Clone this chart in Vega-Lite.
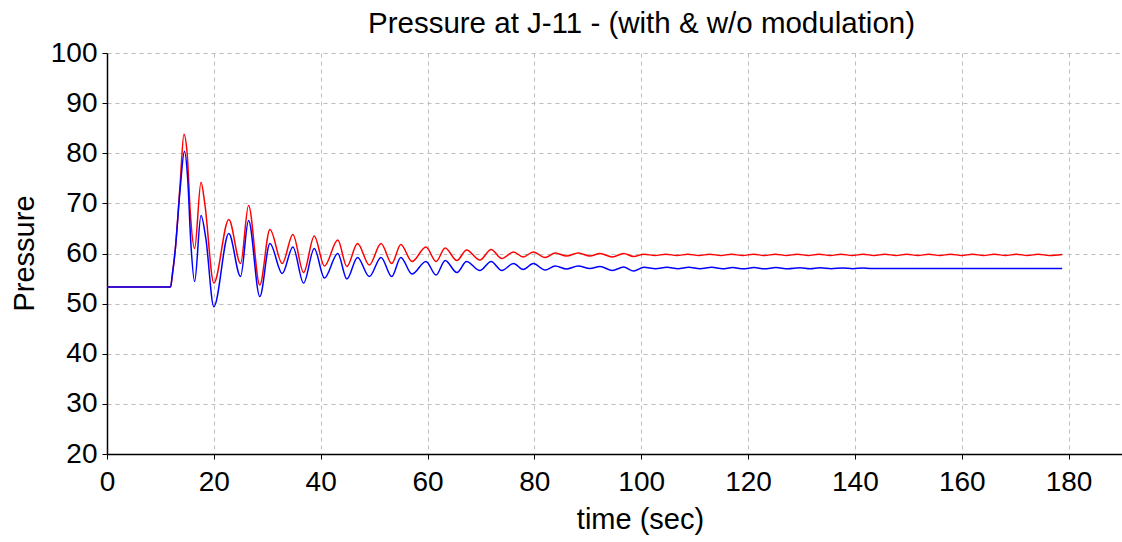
{
  "$schema": "https://vega.github.io/schema/vega-lite/v6.json",
  "autosize": {"type": "none"},
  "padding": {"left": 107, "top": 53, "right": 0, "bottom": 88},
  "width": 1015,
  "height": 401,
  "background": "white",
  "title": {
    "text": "Pressure at J-11 - (with & w/o modulation)",
    "font": "Liberation Sans",
    "fontSize": 29.5,
    "fontWeight": "normal",
    "color": "black",
    "anchor": "middle",
    "frame": "group",
    "dx": 27,
    "dy": 33,
    "baseline": "bottom",
    "offset": 4
  },
  "datasets": {
    "red": [
      {"t": 0, "p": 53.3}, {"t": 11.9, "p": 53.3}, {"t": 12.2, "p": 55.5}, {"t": 12.8, "p": 61}, {"t": 13.7, "p": 74},
      {"t": 14.4, "p": 83.8}, {"t": 15.0, "p": 80}, {"t": 15.6, "p": 68}, {"t": 16.4, "p": 61.0}, {"t": 17.6, "p": 74.2},
      {"t": 18.3, "p": 70}, {"t": 20.0, "p": 54.1}, {"t": 22.8, "p": 66.8}, {"t": 25.0, "p": 58.0}, {"t": 26.5, "p": 69.6},
      {"t": 28.6, "p": 53.7}, {"t": 30.5, "p": 64.8}, {"t": 32.8, "p": 58.0}, {"t": 34.8, "p": 63.8}, {"t": 36.8, "p": 56.2},
      {"t": 38.8, "p": 63.5}, {"t": 40.7, "p": 57.5}, {"t": 43.2, "p": 62.7}, {"t": 44.9, "p": 57.4}, {"t": 46.9, "p": 62.0},
      {"t": 49.1, "p": 57.7}, {"t": 51.3, "p": 62.0}, {"t": 53.3, "p": 58.0}, {"t": 55.0, "p": 61.8}, {"t": 57.1, "p": 58.4},
      {"t": 59.7, "p": 61.3}, {"t": 61.6, "p": 58.4}, {"t": 63.3, "p": 61.1}, {"t": 65.5, "p": 58.6}, {"t": 67.3, "p": 60.7},
      {"t": 69.8, "p": 58.7}, {"t": 71.9, "p": 60.8}, {"t": 73.9, "p": 59.0}, {"t": 76.1, "p": 60.3}, {"t": 77.9, "p": 59.3},
      {"t": 79.8, "p": 60.3}, {"t": 82.0, "p": 59.2}, {"t": 83.9, "p": 60.1}, {"t": 86.0, "p": 59.5}, {"t": 88.2, "p": 60.1},
      {"t": 90.4, "p": 59.5}, {"t": 92.3, "p": 60.0}, {"t": 94.6, "p": 59.3}, {"t": 96.7, "p": 60.0}, {"t": 98.6, "p": 59.4},
      {"t": 100.5, "p": 59.85}, {"t": 102.6, "p": 59.6}, {"t": 104.6, "p": 59.85}, {"t": 106.7, "p": 59.6}, {"t": 108.7, "p": 59.85},
      {"t": 110.8, "p": 59.6}, {"t": 112.8, "p": 59.85}, {"t": 114.9, "p": 59.6}, {"t": 116.9, "p": 59.85}, {"t": 119.0, "p": 59.6},
      {"t": 121.0, "p": 59.85}, {"t": 123.1, "p": 59.6}, {"t": 125.1, "p": 59.85}, {"t": 127.2, "p": 59.6}, {"t": 129.2, "p": 59.85},
      {"t": 131.3, "p": 59.6}, {"t": 133.3, "p": 59.85}, {"t": 135.4, "p": 59.6}, {"t": 137.4, "p": 59.85}, {"t": 139.5, "p": 59.6},
      {"t": 141.5, "p": 59.85}, {"t": 143.6, "p": 59.6}, {"t": 145.6, "p": 59.85}, {"t": 147.7, "p": 59.6}, {"t": 149.7, "p": 59.85},
      {"t": 151.8, "p": 59.6}, {"t": 153.8, "p": 59.85}, {"t": 155.9, "p": 59.6}, {"t": 157.9, "p": 59.85}, {"t": 160.0, "p": 59.6},
      {"t": 162.0, "p": 59.85}, {"t": 164.1, "p": 59.6}, {"t": 166.1, "p": 59.85}, {"t": 168.2, "p": 59.6}, {"t": 170.2, "p": 59.85},
      {"t": 172.3, "p": 59.6}, {"t": 174.3, "p": 59.85}, {"t": 176.4, "p": 59.6}, {"t": 178.8, "p": 59.8}
    ],
    "blue": [
      {"t": 0, "p": 53.3}, {"t": 11.9, "p": 53.3}, {"t": 12.2, "p": 55.5}, {"t": 12.8, "p": 61}, {"t": 13.7, "p": 73},
      {"t": 14.5, "p": 80.4}, {"t": 15.1, "p": 75}, {"t": 15.7, "p": 62}, {"t": 16.4, "p": 54.4}, {"t": 17.6, "p": 67.6},
      {"t": 18.5, "p": 63}, {"t": 20.0, "p": 49.4}, {"t": 22.8, "p": 64.0}, {"t": 25.0, "p": 55.4}, {"t": 26.5, "p": 66.6},
      {"t": 28.6, "p": 51.4}, {"t": 30.5, "p": 62.0}, {"t": 32.8, "p": 56.0}, {"t": 34.8, "p": 61.3}, {"t": 36.8, "p": 54.1},
      {"t": 38.8, "p": 61.0}, {"t": 40.7, "p": 55.1}, {"t": 43.2, "p": 60.0}, {"t": 44.9, "p": 54.9}, {"t": 46.9, "p": 59.2},
      {"t": 49.1, "p": 55.4}, {"t": 51.3, "p": 59.2}, {"t": 53.3, "p": 55.4}, {"t": 55.0, "p": 59.2}, {"t": 57.1, "p": 55.9},
      {"t": 59.7, "p": 58.4}, {"t": 61.6, "p": 55.7}, {"t": 63.3, "p": 58.6}, {"t": 65.5, "p": 56.2}, {"t": 67.3, "p": 58.4},
      {"t": 69.8, "p": 56.6}, {"t": 71.9, "p": 58.4}, {"t": 73.9, "p": 56.6}, {"t": 76.1, "p": 58.0}, {"t": 77.9, "p": 56.8},
      {"t": 79.8, "p": 58.0}, {"t": 82.0, "p": 56.7}, {"t": 83.9, "p": 57.5}, {"t": 86.0, "p": 56.9}, {"t": 88.2, "p": 57.5},
      {"t": 90.4, "p": 57.0}, {"t": 92.3, "p": 57.4}, {"t": 94.6, "p": 56.6}, {"t": 96.7, "p": 57.3}, {"t": 98.6, "p": 56.5},
      {"t": 100.5, "p": 57.25}, {"t": 102.7, "p": 56.95}, {"t": 104.8, "p": 57.25}, {"t": 106.9, "p": 56.95}, {"t": 108.9, "p": 57.25},
      {"t": 111.0, "p": 56.95}, {"t": 113.2, "p": 57.25}, {"t": 115.2, "p": 56.95}, {"t": 117.1, "p": 57.2}, {"t": 119.1, "p": 56.95},
      {"t": 121.1, "p": 57.2}, {"t": 123.1, "p": 56.95}, {"t": 125.2, "p": 57.2}, {"t": 127.5, "p": 56.95}, {"t": 129.7, "p": 57.15},
      {"t": 131.6, "p": 56.95}, {"t": 133.5, "p": 57.15}, {"t": 135.6, "p": 56.97}, {"t": 137.7, "p": 57.1}, {"t": 139.6, "p": 56.98},
      {"t": 141.5, "p": 57.1}, {"t": 143.0, "p": 57.0}, {"t": 178.8, "p": 57.0}
    ]
  },
  "encoding": {
    "x": {
      "field": "t", "type": "quantitative",
      "scale": {"domain": [0, 190], "nice": false, "zero": false},
      "axis": {
        "title": "time (sec)",
        "values": [0, 20, 40, 60, 80, 100, 120, 140, 160, 180],
        "titleX": 533, "titleY": 74, "titleBaseline": "alphabetic",
        "labelPadding": 9
      }
    },
    "y": {
      "field": "p", "type": "quantitative",
      "scale": {"domain": [20, 100], "nice": false, "zero": false},
      "axis": {
        "title": "Pressure",
        "values": [20, 30, 40, 50, 60, 70, 80, 90, 100],
        "titleX": -74, "titleY": 200, "titleBaseline": "alphabetic",
        "labelPadding": 5
      }
    }
  },
  "layer": [
    {"data": {"name": "red"}, "mark": {"type": "line", "color": "#ff0000", "strokeWidth": 1.5, "interpolate": "monotone"}},
    {"data": {"name": "blue"}, "mark": {"type": "line", "color": "#0000ff", "strokeWidth": 1.5, "interpolate": "monotone"}}
  ],
  "config": {
    "view": {"stroke": null},
    "axis": {
      "labelFont": "Liberation Sans",
      "labelFontSize": 28,
      "labelColor": "black",
      "titleFont": "Liberation Sans",
      "titleFontSize": 29,
      "titleFontWeight": "normal",
      "titleColor": "black",
      "domainColor": "black",
      "domainWidth": 1.5,
      "tickColor": "black",
      "tickSize": 5,
      "grid": true,
      "gridColor": "#bdbdbd",
      "gridDash": [4, 4],
      "gridWidth": 1,
      "labelFlush": false,
      "labelOverlap": false
    }
  }
}
